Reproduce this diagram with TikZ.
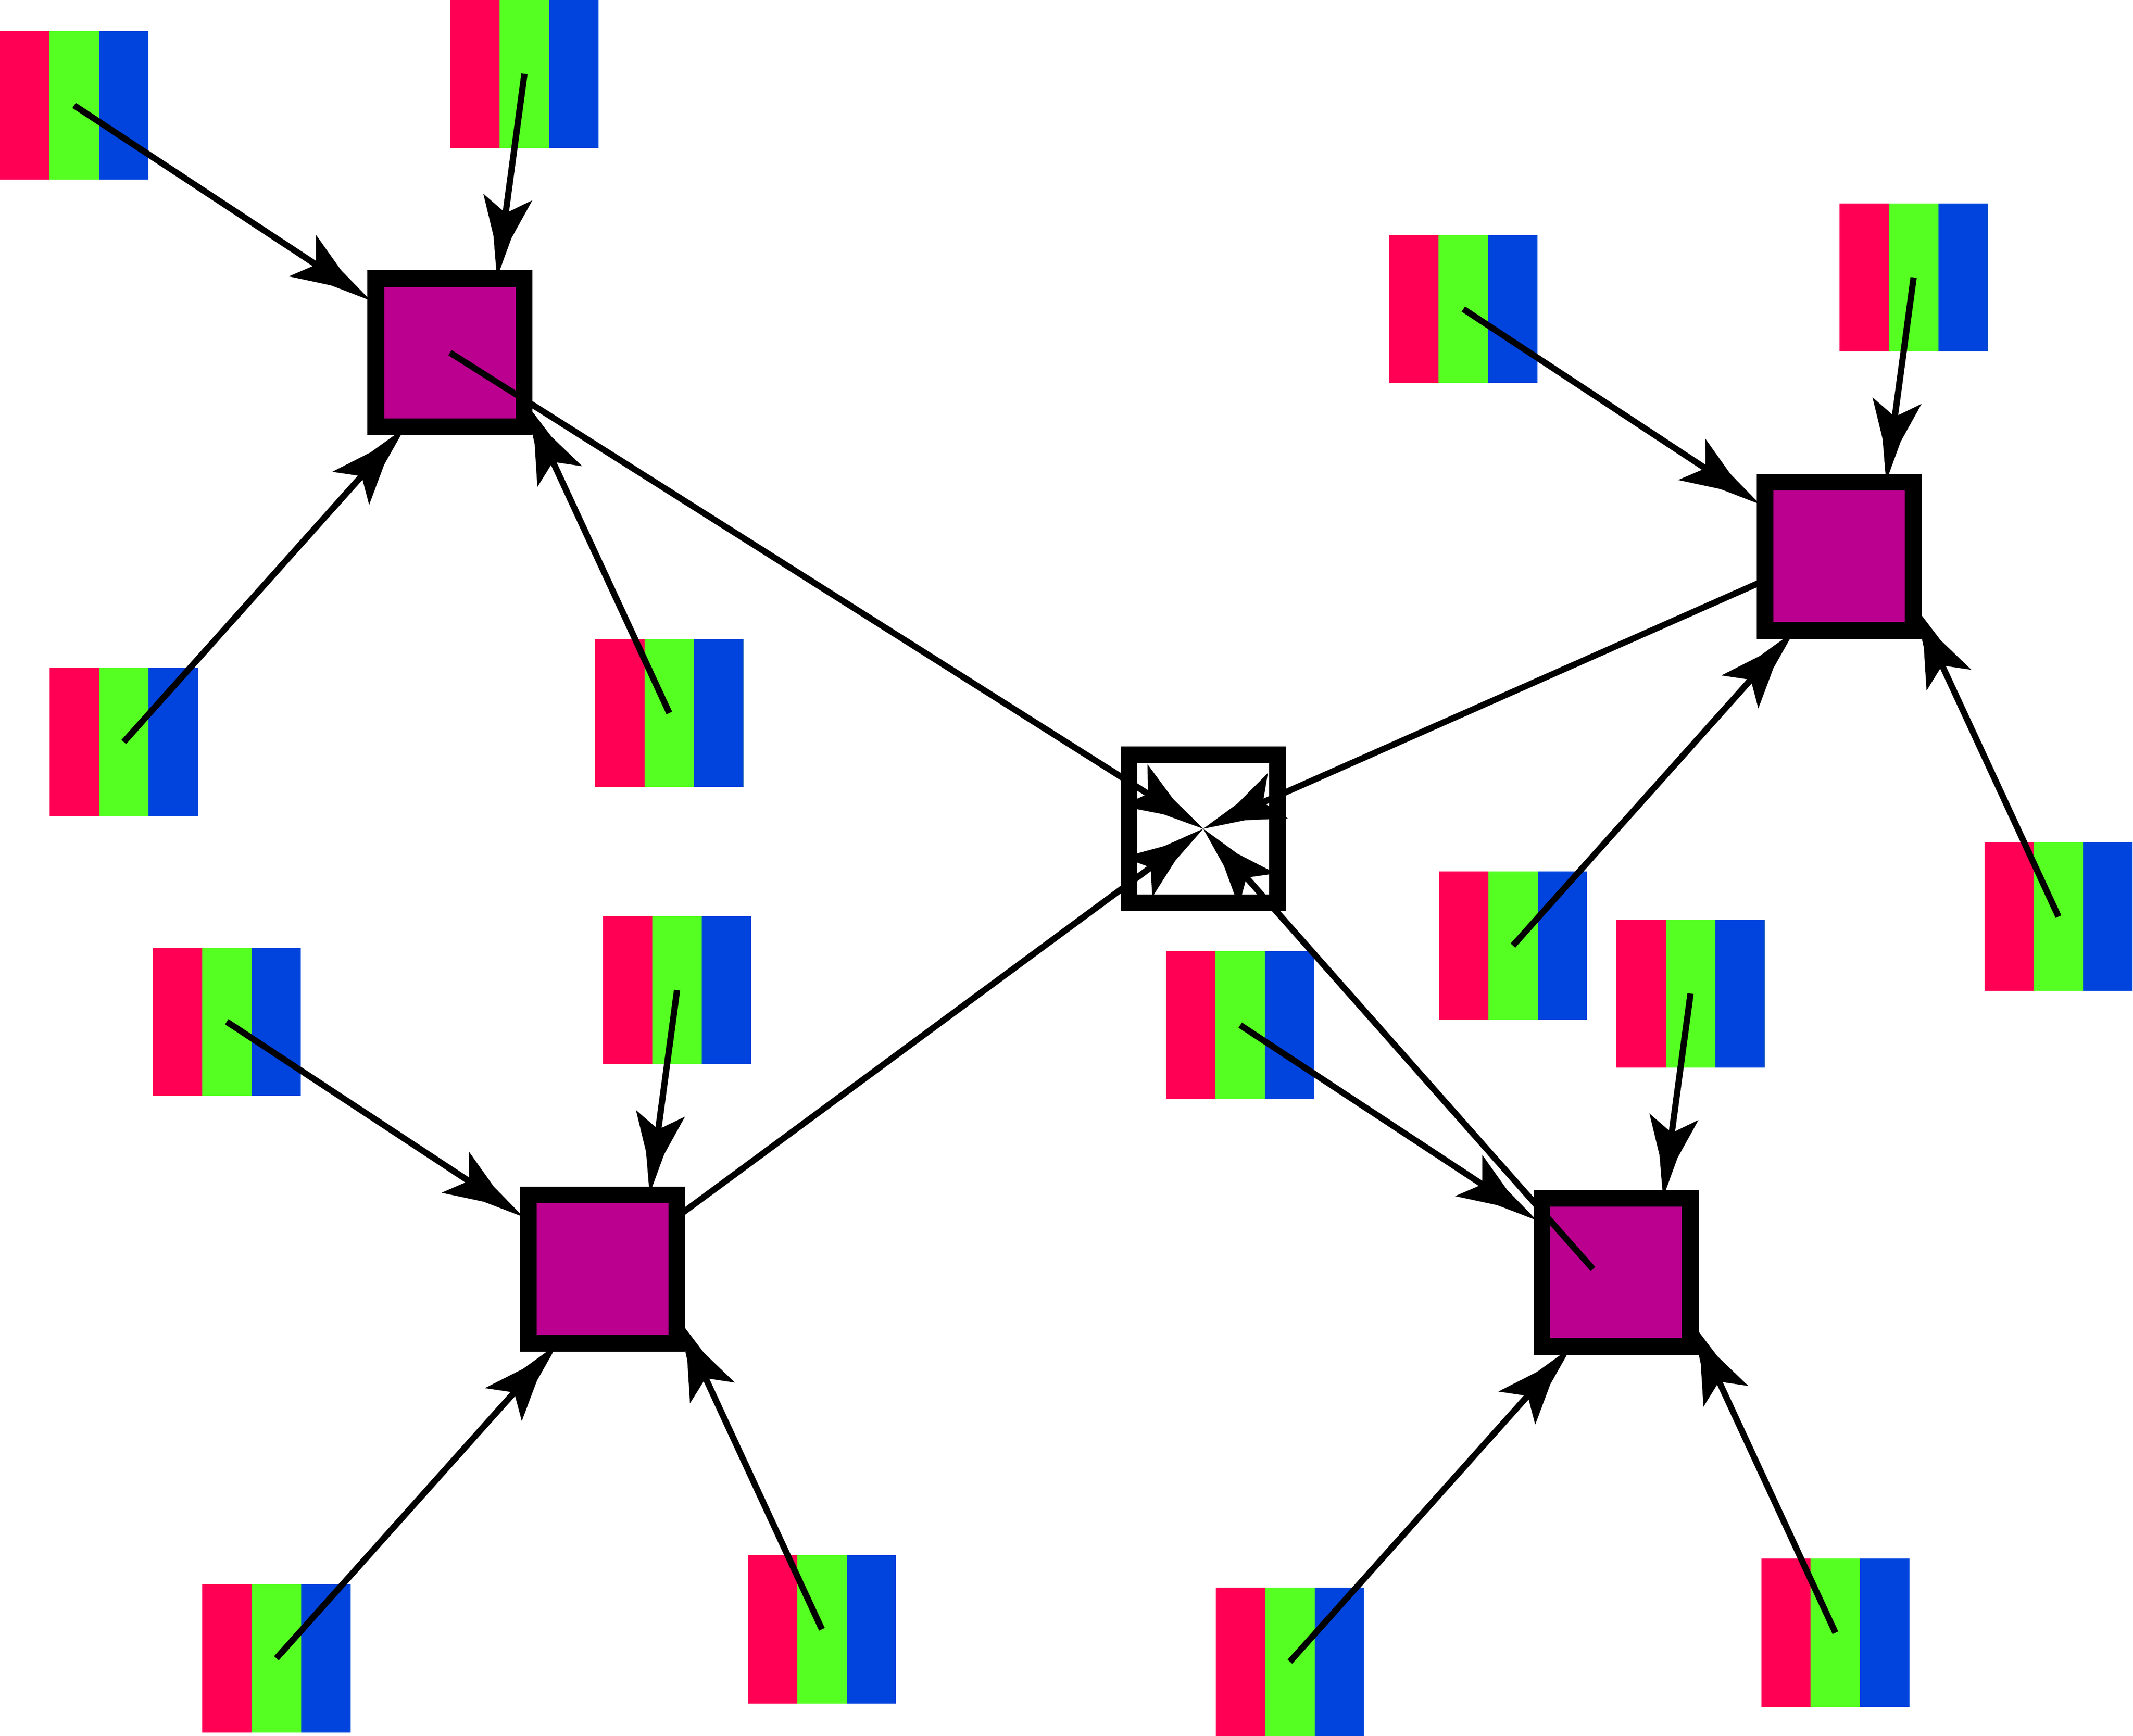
\documentclass[tikz,border=0pt]{standalone}
\usepackage{tikz}
\usetikzlibrary{arrows,positioning}
\definecolor{barpink}{HTML}{FF0055}
\definecolor{bargreen}{HTML}{55FF22}
\definecolor{barblue}{HTML}{0044DD}
\definecolor{hubpurple}{HTML}{BB0090}
\pgfarrowsdeclare{barb}{barb}
{\pgfarrowsleftextend{-14pt}\pgfarrowsrightextend{46pt}}
{
  \pgfpathmoveto{\pgfpoint{46pt}{0pt}}
  \pgfpathlineto{\pgfpoint{15.5pt}{6.7pt}}
  \pgfpathlineto{\pgfpoint{-14pt}{18.2pt}}
  \pgfpathlineto{\pgfpoint{-2pt}{0pt}}
  \pgfpathlineto{\pgfpoint{-14pt}{-18.2pt}}
  \pgfpathlineto{\pgfpoint{15.5pt}{-6.7pt}}
  \pgfpathclose
  \pgfusepathqfill
}
\tikzset{
  link/.style={->,line width=4.6pt},
  hub/.style={rectangle,draw=black,line width=12.3pt,minimum size=109pt,inner sep=0pt,outer sep=0pt},
  colorbar/.style={rectangle,minimum size=109pt,inner sep=0pt,outer sep=0pt,path picture={
    \fill[barpink] (-54.5pt,-54.5pt) rectangle (54.5pt,54.5pt);
    \fill[bargreen] (-18.2pt,-54.5pt) rectangle (54.5pt,54.5pt);
    \fill[barblue] (18.2pt,-54.5pt) rectangle (54.5pt,54.5pt);
  }}
}
\begin{document}
\begin{tikzpicture}[>=barb,x=1pt,y=-1pt]
\useasboundingbox (0,0) rectangle (1568,1276.3);
\coordinate (tlc) at (330.8,259.3);
\coordinate (trs) at (1352,402.5);
\coordinate (bls) at (443,935);
\coordinate (brs) at (1171,933);
\node[hub,fill=white] (mid) at (884.5,609.3) {};
% these two run under their squares
\draw[link] (trs) -- (mid.center);
\draw[link] (bls) -- (mid.center);
\foreach \s/\x/\y in {tl/330.8/259.3,tr/1352/409,bl/443/933,br/1188/935.5}{
  \begin{scope}[shift={(\x,\y)}]
    \node[colorbar] (\s-a) at (-276.3,-181.8) {};
    \node[colorbar] (\s-b) at (54.7,-205) {};
    \node[colorbar] (\s-c) at (-239.8,286.2) {};
    \node[colorbar] (\s-d) at (161.2,264.9) {};
    \coordinate (\s-ta) at (-58.3,-38.3);
    \coordinate (\s-tb) at (34.5,-55);
    \coordinate (\s-tc) at (-33,55);
    \coordinate (\s-td) at (55.5,36.7);
    \draw[link] (\s-a.center) -- (\s-ta);
    \draw[link] (\s-b.center) -- (\s-tb);
    \draw[link] (\s-c.center) -- (\s-tc);
    \draw[link] (\s-d.center) -- (\s-td);
    \node[hub,fill=hubpurple] (\s) at (0,0) {};
  \end{scope}
}
% these two lie on top of their squares
\draw[link] (tlc) -- (mid.center);
\draw[link] (brs) -- (mid.center);
\end{tikzpicture}
\end{document}
